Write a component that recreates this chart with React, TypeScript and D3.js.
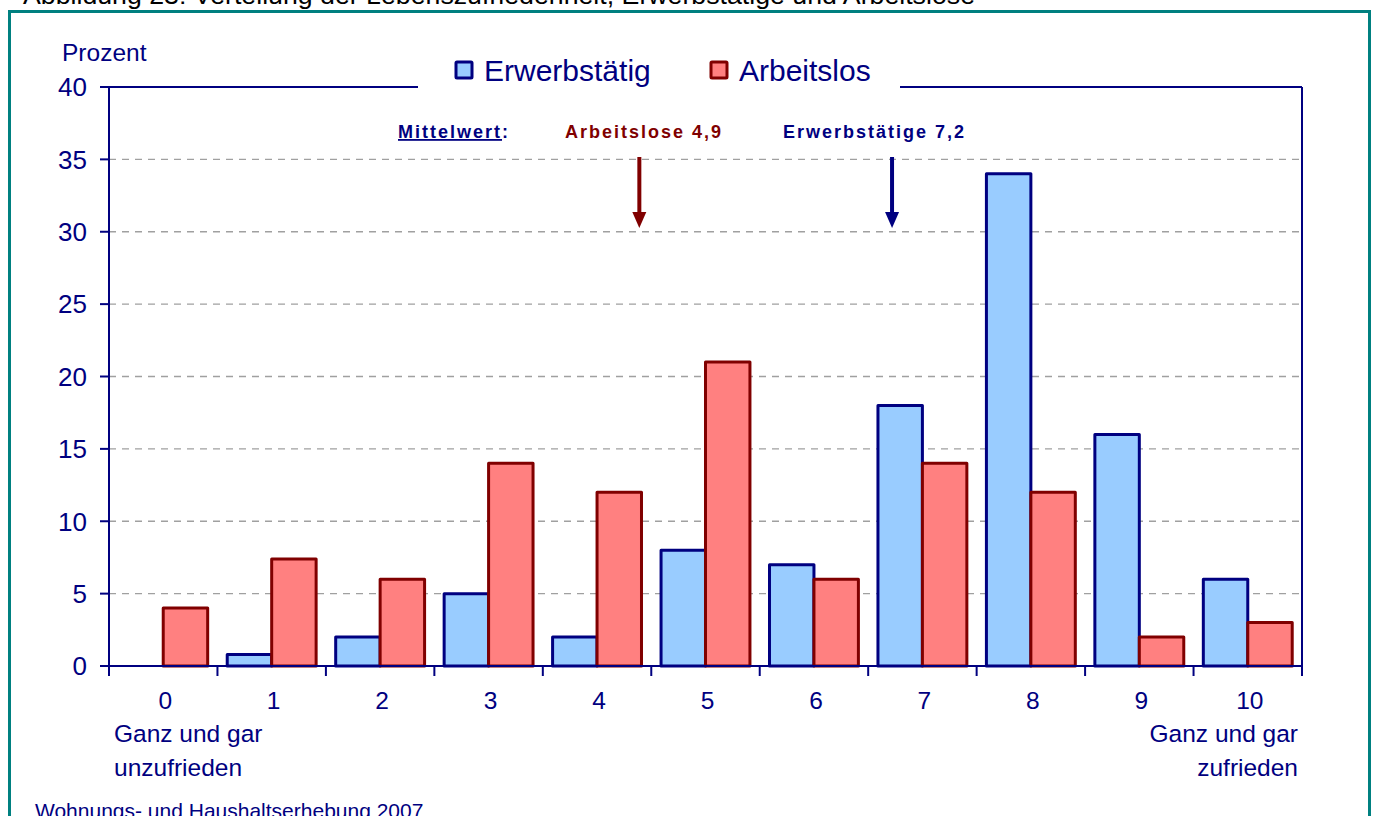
import React from "react";
import * as d3 from "d3";

const categories = ["0", "1", "2", "3", "4", "5", "6", "7", "8", "9", "10"];
const erwerbstaetig = [0, 0.8, 2, 5, 2, 8, 7, 18, 34, 16, 6];
const arbeitslos = [4, 7.4, 6, 14, 12, 21, 6, 14, 12, 2, 3];
const yTicks = [0, 5, 10, 15, 20, 25, 30, 35, 40];
const seriesNames = ["Erwerbstätig", "Arbeitslos"];
const meanLabels = ["Arbeitslose 4,9", "Erwerbstätige 7,2"];
const meanArrowPos = [4.39, 6.72];

const W = 1374;
const H = 816;
const M = { left: 109, right: 1302, top: 87, bottom: 666 };
const NAVY = "#000080";
const DRED = "#800000";
const BLUE = "#99CCFF";
const RED = "#FF8080";
const FONT = "Arial, 'Liberation Sans', sans-serif";

export default function App() {
  const x0 = d3.scaleBand<string>().domain(categories).range([M.left, M.right]).paddingInner(0).paddingOuter(0);
  const x1 = d3.scaleBand<string>().domain(seriesNames).range([0, x0.bandwidth()]).paddingInner(0).paddingOuter(0.22);
  const y = d3.scaleLinear().domain([0, 40]).range([M.bottom, M.top]);
  const xc = d3.scaleLinear().domain([-0.5, categories.length - 0.5]).range([M.left, M.right]);

  const seriesData = [
    { name: seriesNames[0], values: erwerbstaetig, fill: BLUE, stroke: NAVY },
    { name: seriesNames[1], values: arbeitslos, fill: RED, stroke: DRED },
  ];
  const boundaries = d3.range(categories.length + 1).map((i) => M.left + i * x0.step());
  const legendGap = [418, 900];

  return (
    <svg width={W} height={H} style={{ position: "absolute", left: 0, top: 0, background: "#fff" }} fontFamily={FONT}>
      <rect x={0} y={0} width={W} height={H} fill="#fff" />
      {/* title (cut off) */}
      <text x={23} y={4} fontSize={26} fill="#000" textLength={952} lengthAdjust="spacingAndGlyphs">
        Abbildung 23: Verteilung der Lebenszufriedenheit, Erwerbstätige und Arbeitslose
      </text>
      {/* teal frame */}
      <rect x={9.5} y={11.5} width={1360} height={H + 20} fill="none" stroke="#008080" strokeWidth={3} />

      {/* gridlines */}
      {yTicks.filter((t) => t > 0 && t < 40).map((t) => (
        <line key={t} x1={M.left} x2={M.right} y1={y(t)} y2={y(t)} stroke="#a0a0a0" strokeWidth={1.3} strokeDasharray="7,6" />
      ))}

      {/* bars */}
      {seriesData.map((s) =>
        s.values.map((v, i) =>
          v > 0 ? (
            <rect
              key={s.name + i}
              x={(x0(categories[i]) as number) + (x1(s.name) as number)}
              y={y(v)}
              width={x1.bandwidth()}
              height={y(0) - y(v)}
              fill={s.fill}
              stroke={s.stroke}
              strokeWidth={3}
              strokeLinejoin="round"
            />
          ) : null
        )
      )}

      {/* frame lines */}
      <line x1={M.left} x2={legendGap[0]} y1={M.top} y2={M.top} stroke={NAVY} strokeWidth={2} />
      <line x1={legendGap[1]} x2={M.right} y1={M.top} y2={M.top} stroke={NAVY} strokeWidth={2} />
      <line x1={M.right} x2={M.right} y1={M.top} y2={M.bottom} stroke={NAVY} strokeWidth={2} />
      <line x1={M.left} x2={M.left} y1={M.top} y2={M.bottom} stroke={NAVY} strokeWidth={2} />
      <line x1={M.left - 9} x2={M.right} y1={M.bottom} y2={M.bottom} stroke={NAVY} strokeWidth={2} />

      {/* y ticks */}
      {yTicks.map((t) => (
        <g key={t}>
          <line x1={M.left - 9} x2={M.left} y1={y(t)} y2={y(t)} stroke={NAVY} strokeWidth={2} />
          <text x={87} y={y(t)} dy="0.36em" textAnchor="end" fontSize={26} fill={NAVY}>{t}</text>
        </g>
      ))}
      <text x={62} y={61} fontSize={24.5} fill={NAVY}>Prozent</text>

      {/* x ticks */}
      {boundaries.map((b, i) => (
        <line key={i} x1={b} x2={b} y1={M.bottom} y2={M.bottom + 10} stroke={NAVY} strokeWidth={2} />
      ))}
      {categories.map((c) => (
        <text key={c} x={(x0(c) as number) + x0.bandwidth() / 2 + 2} y={709} textAnchor="middle" fontSize={24.5} fill={NAVY}>{c}</text>
      ))}
      <text x={114} y={742} fontSize={24.5} fill={NAVY}>Ganz und gar</text>
      <text x={114} y={776} fontSize={24.5} fill={NAVY}>unzufrieden</text>
      <text x={1298} y={742} fontSize={24.5} fill={NAVY} textAnchor="end">Ganz und gar</text>
      <text x={1298} y={776} fontSize={24.5} fill={NAVY} textAnchor="end">zufrieden</text>

      {/* legend */}
      {seriesData.map((s, i) => {
        const lx = [456, 711][i];
        return (
          <g key={s.name}>
            <rect x={lx} y={62} width={16} height={16} fill={s.fill} stroke={s.stroke} strokeWidth={3} rx={1} />
            <text x={lx + 28} y={81} fontSize={30} fill={NAVY}>{s.name}</text>
          </g>
        );
      })}

      {/* mean annotations */}
      <text x={398} y={138} fontSize={18} fontWeight="bold" fill={NAVY} letterSpacing={2}>
        <tspan textDecoration="underline">Mittelwert</tspan>
        <tspan>:</tspan>
      </text>
      <text x={565} y={138} fontSize={18} fontWeight="bold" fill={DRED} letterSpacing={2}>{meanLabels[0]}</text>
      <text x={783} y={138} fontSize={18} fontWeight="bold" fill={NAVY} letterSpacing={2}>{meanLabels[1]}</text>
      {meanArrowPos.map((m, i) => {
        const ax = xc(m);
        const col = [DRED, NAVY][i];
        return (
          <g key={i}>
            <line x1={ax} x2={ax} y1={157} y2={214} stroke={col} strokeWidth={4} />
            <path d={`M${ax - 7},${212} L${ax + 7},${212} L${ax},${228} Z`} fill={col} />
          </g>
        );
      })}

      {/* footer */}
      <text x={35} y={818} fontSize={21} fill={NAVY}>Wohnungs- und Haushaltserhebung 2007</text>
    </svg>
  );
}
